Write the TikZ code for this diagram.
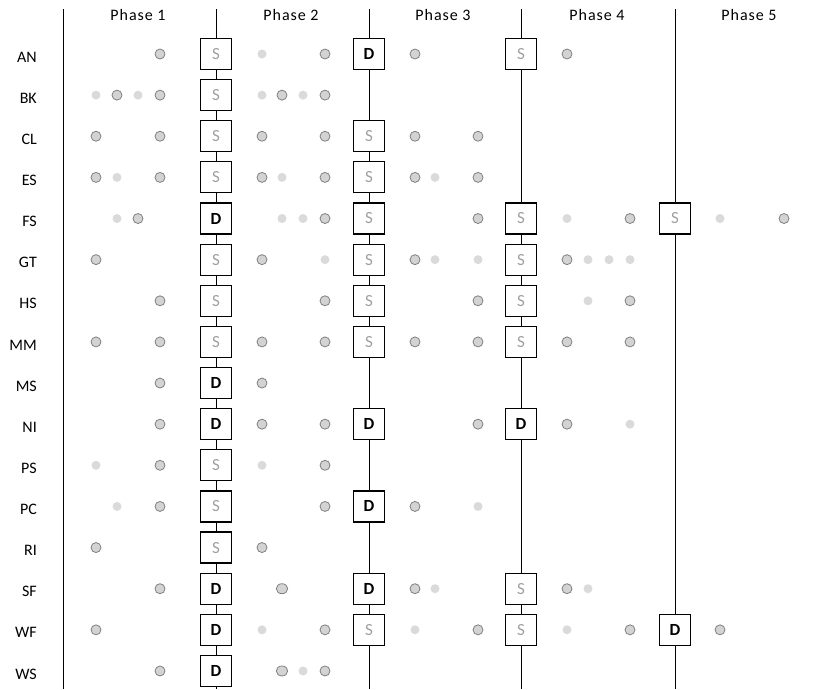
\documentclass[tikz,border=0pt]{standalone}
\usepackage{fontspec}
\setmainfont{Carlito}
\newfontfamily\phasefont[LetterSpace=6]{Carlito}
\usepackage{tikz}
\usetikzlibrary{shapes.geometric}

\definecolor{dotfill}{HTML}{D3D3D3}
\definecolor{dotline}{HTML}{808080}
\definecolor{lightdot}{HTML}{DADADA}
\definecolor{sgray}{HTML}{A0A0A0}

\tikzset{
	dot-o/.style={circle, draw=dotline, fill=dotfill, line width=0.8pt, minimum size=10pt, inner sep=0pt},
	dot-w/.style={ellipse, draw=dotline, fill=dotfill, line width=0.8pt, minimum width=11.5pt, minimum height=10pt, inner sep=0pt},
	dot-l/.style={circle, fill=lightdot, minimum size=9pt, inner sep=0pt},
	box-S/.style={draw, fill=white, line width=1.2pt, minimum size=31pt, inner sep=0pt, text=sgray, font=\fontsize{17}{20}\selectfont},
	box-D/.style={box-S, text=black, font=\fontsize{17}{20}\selectfont\bfseries},
	rowlab/.style={anchor=east, inner sep=0pt},
	phaselab/.style={anchor=base, inner sep=0pt, font=\fontsize{16}{19}\selectfont\phasefont}
}

\begin{document}
\begin{tikzpicture}[x=1pt, y=-1pt, every node/.style={font=\fontsize{16}{19}\selectfont}]
	\useasboundingbox (0,0) rectangle (825,689);
	% phase separators
	\foreach \x [count=\i] in {63,216,369,521,675} {
		\coordinate (top\i) at (\x,9);
		\coordinate (bot\i) at (\x,689);
		\draw[line width=0.9pt] (top\i) -- (bot\i);
	}
	\foreach \x/\n in {138/1,291/2,443/3,597/4,749/5}
		\node[phaselab] (ph\n) at (\x,20) {Phase \n};
	% rows: label / dots (x/kind) / boxes (x/letter)
	\foreach \r/\lab/\pts/\bxs [evaluate=\r as \yy using 54+41.13*(\r-1)] in {
		1/AN/{160/o,262/l,325/o,415/o,567/o}/{216/S,369/D,521/S},
		2/BK/{96/l,117/o,138/l,160/o,262/l,282/o,303/l,325/o}/{216/S},
		3/CL/{96/o,160/o,262/o,325/o,415/o,478/o}/{216/S,369/S},
		4/ES/{96/o,117/l,160/o,262/o,282/l,325/o,415/o,435/l,478/o}/{216/S,369/S},
		5/FS/{117/l,138/o,282/l,303/l,325/o,478/o,567/l,630/o,720/l,784/o}/{216/D,369/S,521/S,675/S},
		6/GT/{96/o,262/o,325/l,415/o,435/l,478/l,567/o,588/l,609/l,630/l}/{216/S,369/S,521/S},
		7/HS/{160/o,325/o,478/o,588/l,630/o}/{216/S,369/S,521/S},
		8/MM/{96/o,160/o,262/o,325/o,415/o,478/o,567/o,630/o}/{216/S,369/S,521/S},
		9/MS/{160/o,262/o}/{216/D},
		10/NI/{160/o,262/o,325/o,478/o,567/o,630/l}/{216/D,369/D,521/D},
		11/PS/{96/l,160/o,262/l,325/o}/{216/S},
		12/PC/{117/l,160/o,325/o,415/o,478/l}/{216/S,369/D},
		13/RI/{96/o,262/o}/{216/S},
		14/SF/{160/o,282/w,415/o,435/l,567/o,588/l}/{216/D,369/D,521/S},
		15/WF/{96/o,262/l,325/o,415/l,478/o,567/l,630/o,720/o}/{216/D,369/S,521/S,675/D},
		16/WS/{160/o,282/w,303/l,325/o}/{216/D}} {
		\node[rowlab] (lab\r) at (37,\yy+3) {\lab};
		\foreach \x/\t in \pts
			\node[dot-\t] (d\r-\x) at (\x,\yy) {};
		\foreach \x/\b in \bxs
			\node[box-\b] (b\r-\x) at (\x,\yy) {\b};
	}
\end{tikzpicture}
\end{document}
